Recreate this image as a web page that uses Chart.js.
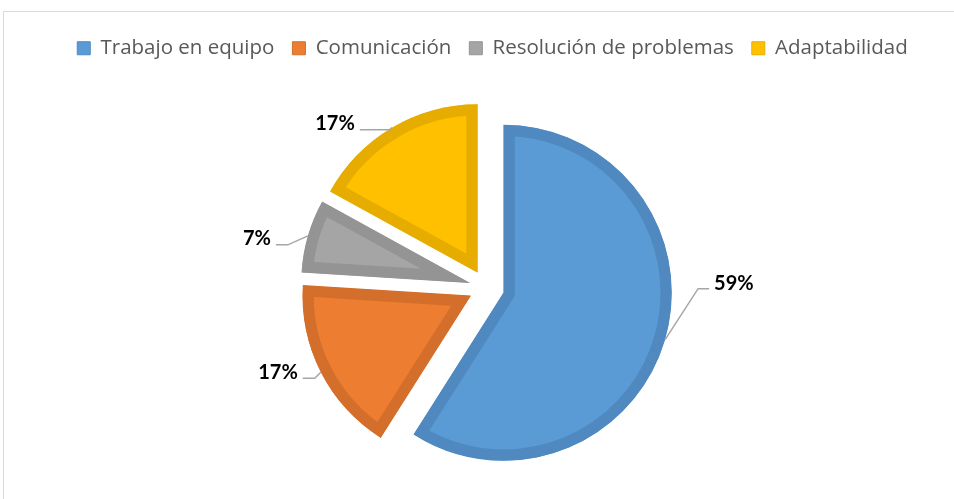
<!DOCTYPE html>
<html><head><meta charset="utf-8">
<script src="https://cdn.jsdelivr.net/npm/chart.js@4"></script>
<style>
html,body{margin:0;padding:0;background:#fff;}
#wrap{position:relative;width:954px;height:499px;overflow:hidden;}
#frame{position:absolute;left:3px;top:11px;width:2000px;height:2000px;border-left:1px solid #d9d9d9;border-top:1px solid #d9d9d9;box-sizing:border-box;}
canvas{position:absolute;left:0;top:0;}
</style></head><body>
<div id="wrap"><div id="frame"></div><canvas id="c" width="954" height="499"></canvas></div>
<script>
const categories = ['Trabajo en equipo', 'Comunicación', 'Resolución de problemas', 'Adaptabilidad'];
const percentages = [59, 17, 7, 17];
const fillColors = ['#5B9BD5', '#ED7D31', '#A5A5A5', '#FFC000'];
const borderColors = ['#4F89C0', '#D46F2B', '#949494', '#E6AD00'];
const explodeDistances = [18, 18, 18, 18];
const pieShift = [-6, 4];
// leader line layout per label: [elbowDx, elbowDy, horizontal length]
const labelLayout = [[33, -51, 11], [-6, 6, -12], [-20, 9, -12], [-2, 2, -30]];

const explodePlugin = {
  id: 'explode',
  afterDatasetUpdate(chart, args) {
    const meta = chart.getDatasetMeta(args.index);
    meta.data.forEach((arc, i) => {
      const mid = (arc.startAngle + arc.endAngle) / 2;
      const t = explodeDistances[i] || 0;
      arc.x += Math.cos(mid) * t + pieShift[0];
      arc.y += Math.sin(mid) * t + pieShift[1];
    });
  }
};

const labelPlugin = {
  id: 'pctLabels',
  afterDatasetsDraw(chart) {
    const ctx = chart.ctx;
    const meta = chart.getDatasetMeta(0);
    meta.data.forEach((arc, i) => {
      const mid = (arc.startAngle + arc.endAngle) / 2;
      const r = arc.outerRadius;
      const ax = arc.x + Math.cos(mid) * r, ay = arc.y + Math.sin(mid) * r;
      const [edx, edy, hl] = labelLayout[i];
      const ex = ax + edx, ey = ay + edy;
      const tx = ex + hl;
      ctx.save();
      ctx.strokeStyle = '#A6A6A6';
      ctx.lineWidth = 1.5;
      ctx.beginPath();
      ctx.moveTo(ax, ay); ctx.lineTo(ex, ey); ctx.lineTo(tx, ey);
      ctx.stroke();
      ctx.fillStyle = '#000';
      ctx.font = 'bold 20px Lato';
      ctx.textBaseline = 'middle';
      const txt = percentages[i] + '%';
      if (hl > 0) { ctx.textAlign = 'left'; ctx.fillText(txt, tx + 5, ey - 5); }
      else { ctx.textAlign = 'right'; ctx.fillText(txt, tx - 5, ey - 6); }
      ctx.restore();
    });
  }
};

new Chart(document.getElementById('c'), {
  type: 'pie',
  data: {
    labels: categories,
    datasets: [{
      data: percentages,
      backgroundColor: fillColors,
      borderColor: borderColors,
      borderWidth: 11,
      borderAlign: 'inner',
      borderJoinStyle: 'miter',
      hoverOffset: 0
    }]
  },
  options: {
    responsive: false,
    animation: false,
    devicePixelRatio: 1,
    radius: 168,
    layout: { padding: { left: 31, right: 0, top: 20, bottom: 0 } },
    plugins: {
      tooltip: { enabled: false },
      legend: {
        position: 'top',
        labels: {
          font: { family: 'Open Sans', size: 20.5 },
          color: '#595959',
          boxWidth: 13,
          boxHeight: 13,
          padding: 18,
          generateLabels(chart) {
            const items = Chart.overrides.pie.plugins.legend.labels.generateLabels(chart);
            items.forEach((it, i) => { it.lineWidth = 1; it.strokeStyle = borderColors[i]; it.fillStyle = fillColors[i]; });
            return items;
          }
        }
      }
    }
  },
  plugins: [explodePlugin, labelPlugin]
});
</script>
</body></html>
